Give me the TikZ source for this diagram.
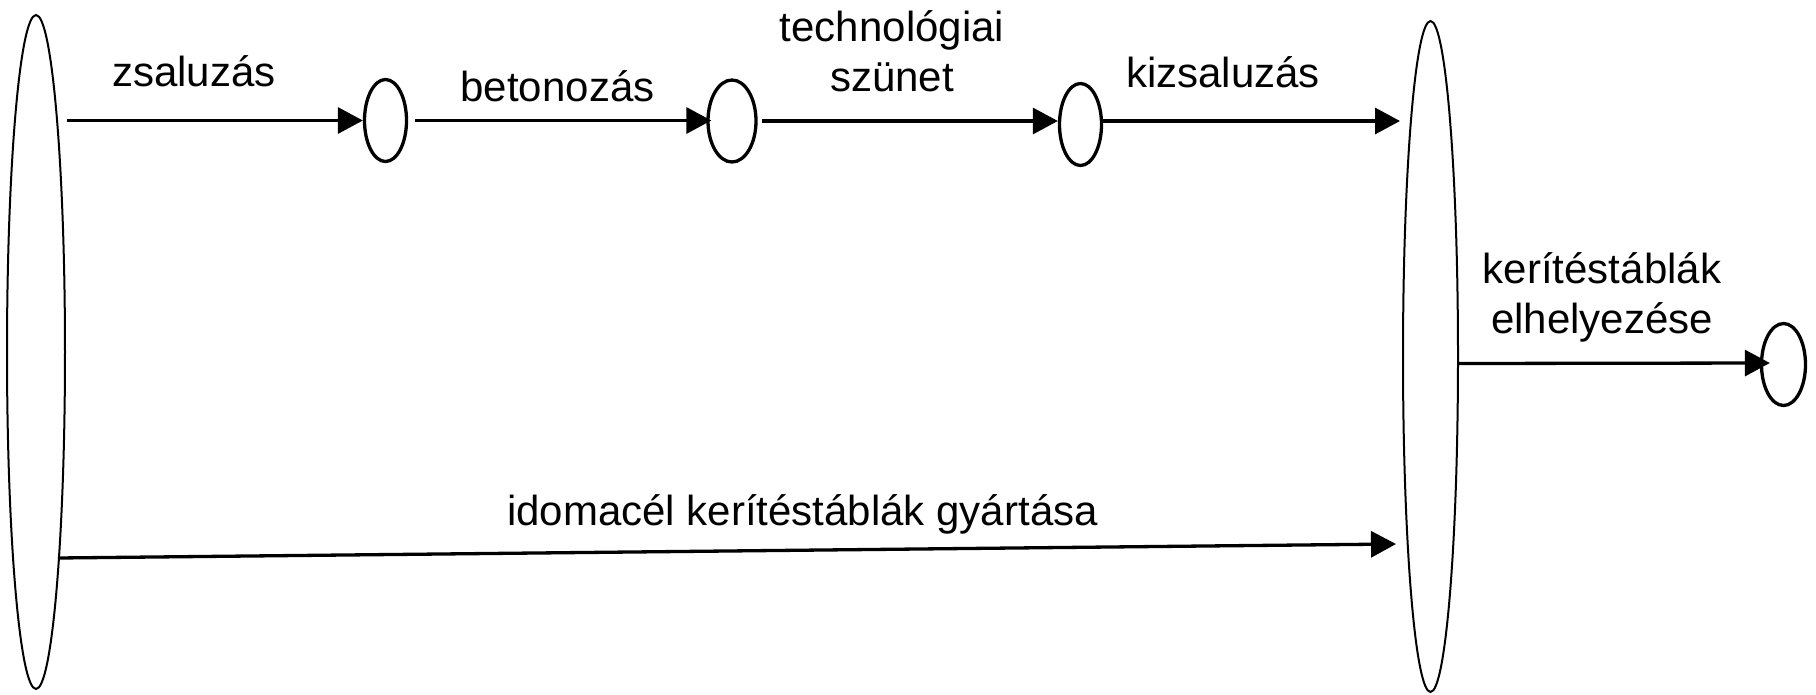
\documentclass[tikz,border=0pt]{standalone}
\usepackage{fontspec}
\setmainfont{Liberation Sans}
\usetikzlibrary{arrows.meta,shapes.geometric,calc}
\begin{document}
\begin{tikzpicture}[x=1pt,y=-1pt,
  bigev/.style={ellipse,draw,line width=2pt,inner sep=0pt},
  smallev/.style={ellipse,draw,line width=3.3pt,inner sep=0pt,minimum height=82pt},
  arr/.style={line width=3.3pt,-{Triangle[length=25pt,width=26pt]}},
  lbl/.style={font=\fontsize{42}{50}\selectfont,anchor=base,inner sep=0pt,align=center}]
\useasboundingbox (0,0) rectangle (1816,694);
% events
\node[bigev,minimum width=58pt,minimum height=674pt] (L) at (36,352) {};
\node[bigev,minimum width=55pt,minimum height=671pt] (R) at (1430.5,356.5) {};
\node[smallev,minimum width=42pt] (n1) at (385.5,120.5) {};
\node[smallev,minimum width=48pt] (n2) at (732,121) {};
\node[smallev,minimum width=42pt] (n3) at (1080.5,124.5) {};
\node[smallev,minimum width=44pt] (n4) at (1783.5,364.5) {};
% activities
\draw[arr] ($(L.center |- n1.west)+(31,0)$) -- (n1.west);
\draw[arr] ([xshift=7pt]n1.east) -- ([xshift=5pt]n2.west |- n1.west);
\draw[arr] ([xshift=4pt]n2.east) -- (n3.west |- n2.east);
\draw[arr] (n3.east |- n2.east) -- ($(R.center |- n2.east)+(-30.5,0)$);
\draw[arr] ($(R.center)+(28,7)$) -- ([xshift=10pt]n4.west |- 0,363);
\draw[arr] ($(L.center)+(22,206)$) -- ($(R.center)+(-34.5,187.5)$);
% labels
\node[lbl] (t1) at (194,86) {zsaluzás};
\node[lbl] (t2) at (557.5,101) {betonozás};
\node[lbl] (t3) at (892,91) {technológiai\\szünet};
\node[lbl] (t4) at (1223,87) {kizsaluzás};
\node[lbl] (t5) at (1602,333) {kerítéstáblák\\elhelyezése};
\node[lbl] (t6) at (802.5,525) {idomacél kerítéstáblák gyártása};
\end{tikzpicture}
\end{document}
